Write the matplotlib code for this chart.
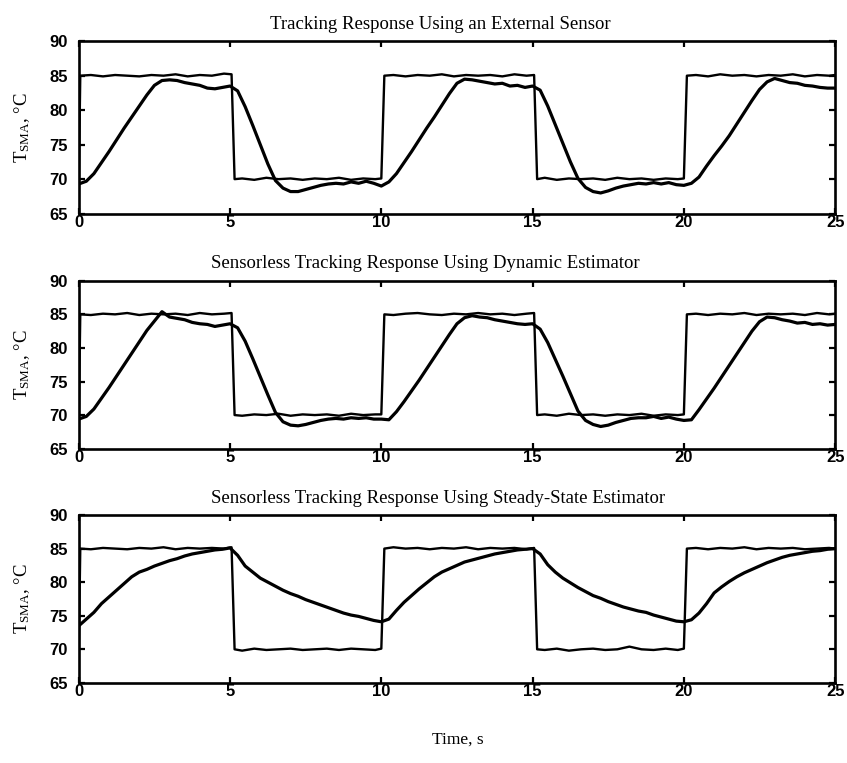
import matplotlib
matplotlib.use('Agg')
import matplotlib.pyplot as plt

# --- data ---

# reference (commanded) temperature, shared time stamps
ref_t = [0.0, 0.05, 0.4, 0.8, 1.2, 1.6, 2.0, 2.4, 2.8, 3.2, 3.6, 4.0, 4.4, 4.8, 5.05,
         5.15, 5.4, 5.8, 6.2, 6.6, 7.0, 7.4, 7.8, 8.2, 8.6, 9.0, 9.4, 9.8, 10.0,
         10.1, 10.4, 10.8, 11.2, 11.6, 12.0, 12.4, 12.8, 13.2, 13.6, 14.0, 14.4, 14.8, 15.05,
         15.15, 15.4, 15.8, 16.2, 16.6, 17.0, 17.4, 17.8, 18.2, 18.6, 19.0, 19.4, 19.8, 20.0,
         20.1, 20.4, 20.8, 21.2, 21.6, 22.0, 22.4, 22.8, 23.2, 23.6, 24.0, 24.4, 24.8, 25.0]

ref_sensor = [69.5, 85.0, 85.1, 84.9, 85.1, 85.0, 84.9, 85.1, 85.0, 85.2, 84.9, 85.1, 85.0, 85.3, 85.2,
              70.0, 70.1, 69.9, 70.2, 70.0, 70.1, 69.9, 70.1, 70.0, 70.2, 69.9, 70.1, 70.0, 70.1,
              85.0, 85.1, 84.9, 85.1, 85.0, 85.2, 84.9, 85.1, 85.0, 85.1, 84.9, 85.2, 85.0, 85.1,
              70.0, 70.2, 69.9, 70.1, 70.0, 70.1, 69.9, 70.2, 70.0, 70.1, 69.9, 70.1, 70.0, 70.1,
              85.0, 85.1, 84.9, 85.2, 85.0, 85.1, 84.9, 85.1, 85.0, 85.2, 84.9, 85.1, 85.0, 85.1]

ref_dynamic = [69.5, 85.0, 84.9, 85.1, 85.0, 85.2, 84.9, 85.1, 85.0, 85.1, 84.9, 85.2, 85.0, 85.1, 85.2,
               70.0, 69.9, 70.1, 70.0, 70.2, 69.9, 70.1, 70.0, 70.1, 69.9, 70.2, 70.0, 70.1, 70.1,
               85.0, 84.9, 85.1, 85.2, 85.0, 84.9, 85.1, 85.0, 85.2, 85.0, 85.1, 84.9, 85.1, 85.2,
               70.0, 70.1, 69.9, 70.2, 70.0, 70.1, 69.9, 70.1, 70.0, 70.2, 69.9, 70.1, 70.0, 70.1,
               85.0, 85.1, 84.9, 85.1, 85.0, 85.2, 84.9, 85.1, 85.0, 85.1, 84.9, 85.2, 85.0, 85.1]

ref_steady = [70.0, 85.0, 84.9, 85.1, 85.0, 84.9, 85.1, 85.0, 85.2, 84.9, 85.1, 85.0, 85.1, 85.0, 85.2,
              70.0, 69.8, 70.1, 69.9, 70.0, 70.1, 69.9, 70.0, 70.1, 69.9, 70.1, 70.0, 69.9, 70.1,
              85.0, 85.2, 85.0, 85.1, 84.9, 85.1, 85.0, 85.2, 84.9, 85.1, 85.0, 85.1, 84.9, 85.1,
              70.0, 69.9, 70.1, 69.8, 70.0, 70.1, 69.9, 70.0, 70.4, 70.0, 69.9, 70.1, 69.9, 70.1,
              85.0, 85.1, 84.9, 85.1, 85.0, 85.2, 84.9, 85.1, 85.0, 85.1, 84.9, 85.0, 85.1, 85.0]

# measured SMA temperature, one sample every 0.25 s
resp_t = [i * 0.25 for i in range(101)]

resp_sensor = [69.3, 69.7, 70.8, 72.4, 74.0, 75.7, 77.4, 79.0, 80.6, 82.2,
               83.6, 84.3, 84.4, 84.3, 84.0, 83.8, 83.6, 83.2, 83.1, 83.3,
               83.5, 82.8, 80.5, 77.8, 75.0, 72.2, 69.8, 68.7, 68.2, 68.2,
               68.5, 68.8, 69.1, 69.3, 69.4, 69.3, 69.6, 69.4, 69.7, 69.4,
               69.0, 69.6, 70.8, 72.4, 74.0, 75.7, 77.4, 79.0, 80.7, 82.4,
               83.9, 84.5, 84.4, 84.2, 84.0, 83.8, 83.9, 83.5, 83.6, 83.3,
               83.5, 82.9, 80.6, 77.9, 75.2, 72.5, 70.1, 68.8, 68.2, 68.0,
               68.3, 68.7, 69.0, 69.2, 69.4, 69.3, 69.5, 69.3, 69.5, 69.2,
               69.1, 69.4, 70.3, 71.9, 73.4, 74.8, 76.3, 78.0, 79.7, 81.4,
               83.0, 84.1, 84.6, 84.3, 84.0, 83.9, 83.6, 83.5, 83.3, 83.2,
               83.2]

resp_dynamic = [69.4, 69.8, 70.9, 72.5, 74.1, 75.8, 77.5, 79.2, 80.9, 82.6,
                84.0, 85.4, 84.6, 84.4, 84.2, 83.8, 83.6, 83.5, 83.2, 83.4,
                83.6, 83.0, 81.0, 78.4, 75.7, 73.0, 70.4, 69.0, 68.5, 68.4,
                68.6, 68.9, 69.2, 69.4, 69.5, 69.4, 69.6, 69.5, 69.6, 69.4,
                69.4, 69.3, 70.5, 72.0, 73.6, 75.2, 76.9, 78.6, 80.3, 82.0,
                83.6, 84.5, 84.8, 84.6, 84.5, 84.2, 84.0, 83.8, 83.6, 83.5,
                83.6, 82.8, 80.8, 78.3, 75.8, 73.2, 70.6, 69.2, 68.6, 68.3,
                68.5, 68.9, 69.2, 69.5, 69.6, 69.6, 69.8, 69.5, 69.7, 69.4,
                69.2, 69.3, 70.8, 72.4, 74.0, 75.7, 77.4, 79.1, 80.8, 82.5,
                83.9, 84.6, 84.5, 84.2, 84.0, 83.7, 83.8, 83.5, 83.6, 83.4,
                83.5]

resp_steady = [73.5, 74.5, 75.5, 76.8, 77.8, 78.8, 79.8, 80.8, 81.5, 81.9,
               82.4, 82.8, 83.2, 83.5, 83.9, 84.2, 84.4, 84.6, 84.8, 84.9,
               85.1, 84.0, 82.4, 81.5, 80.6, 80.0, 79.4, 78.8, 78.3, 77.9,
               77.4, 77.0, 76.6, 76.2, 75.8, 75.4, 75.1, 74.9, 74.6, 74.3,
               74.1, 74.5, 75.8, 77.0, 78.0, 79.0, 79.9, 80.8, 81.5, 82.0,
               82.5, 83.0, 83.3, 83.6, 83.9, 84.2, 84.4, 84.6, 84.8, 84.9,
               85.0, 84.2, 82.6, 81.5, 80.6, 79.9, 79.2, 78.6, 78.0, 77.6,
               77.1, 76.7, 76.3, 76.0, 75.7, 75.5, 75.1, 74.8, 74.5, 74.2,
               74.1, 74.4, 75.4, 76.8, 78.4, 79.3, 80.1, 80.8, 81.4, 81.9,
               82.4, 82.9, 83.3, 83.7, 84.0, 84.2, 84.4, 84.6, 84.7, 84.9,
               85.0]

titles = ['Tracking Response Using an External Sensor',
          'Sensorless Tracking Response Using Dynamic Estimator',
          'Sensorless Tracking Response Using Steady-State Estimator']
x_ticks = [0, 5, 10, 15, 20, 25]
y_ticks = [65, 70, 75, 80, 85, 90]

refs = [ref_sensor, ref_dynamic, ref_steady]
resps = [resp_sensor, resp_dynamic, resp_steady]

plt.rcParams['mathtext.fontset'] = 'custom'
plt.rcParams['mathtext.rm'] = 'Liberation Serif'
plt.rcParams['mathtext.it'] = 'Liberation Serif:italic'

fig = plt.figure(figsize=(8.47, 7.63), dpi=100)

# axes boxes (left, bottom, width, height)
boxes = [[0.093, 0.720, 0.893, 0.226],
         [0.093, 0.412, 0.893, 0.220],
         [0.093, 0.105, 0.893, 0.220]]
title_x = [0.478, 0.458, 0.475]

for i in range(3):
    ax = fig.add_axes(boxes[i])
    ax.plot(ref_t, refs[i], color='black', lw=1.7)
    ax.plot(resp_t, resps[i], color='black', lw=2.3)
    ax.set_xlim(0, 25)
    ax.set_ylim(65, 90)
    ax.set_xticks(x_ticks)
    ax.set_yticks(y_ticks)
    ax.tick_params(direction='in', top=True, right=True, length=4, width=1.6)
    ax.tick_params(axis='x', pad=1)
    ax.tick_params(axis='y', pad=8)
    for lab in ax.get_xticklabels() + ax.get_yticklabels():
        lab.set_fontfamily('Liberation Sans')
        lab.set_fontweight('bold')
        lab.set_fontsize(12)
    for sp in ax.spines.values():
        sp.set_linewidth(1.9)
    ax.set_title(titles[i], x=title_x[i], pad=9, fontsize=13.5, family='Liberation Serif')
    ax.set_ylabel(r'T$_{\mathrm{SMA}}$, °C', fontsize=13.5, family='Liberation Serif')
    ax.yaxis.set_label_coords(-0.062, 0.5)

fig.text(0.54, 0.03, 'Time, s', ha='center', va='center', fontsize=12.5, family='Liberation Serif')

fig.savefig('out.png', dpi=100)
